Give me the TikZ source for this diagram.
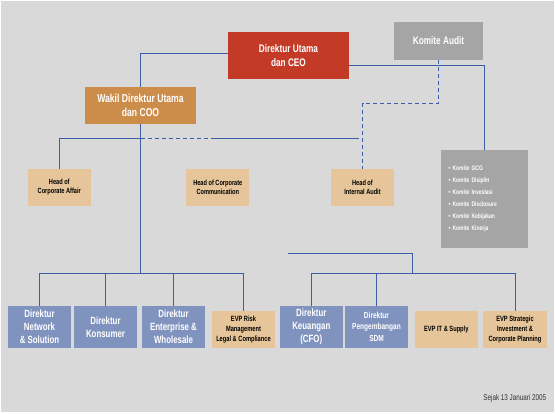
\documentclass[tikz,border=0pt]{standalone}
\usepackage{fontspec}
\setmainfont{Liberation Sans}[FakeStretch=0.75]
\usepackage{xcolor}
\usepackage{tikz}
\usetikzlibrary{positioning,calc}
\definecolor{chartbg}{HTML}{D9D9D9}
\definecolor{ceored}{HTML}{C33A27}
\definecolor{cooorange}{HTML}{CC8C4A}
\definecolor{staffsand}{HTML}{E6C59A}
\definecolor{komitegray}{HTML}{A5A5A5}
\definecolor{dirblue}{HTML}{8093BF}
\definecolor{linkblue}{HTML}{3D5DA6}

\begin{document}
\begin{tikzpicture}[x=1pt,y=-1pt]
\tikzstyle{unit}=[inner sep=0pt,align=center]
\tikzstyle{topbox}=[unit,text=white,font=\bfseries\fontsize{11}{13.3}\selectfont]
\tikzstyle{staff}=[unit,fill=staffsand,minimum width=63pt,minimum height=36.7pt,font=\bfseries\fontsize{7.5}{9.3}\selectfont]
\tikzstyle{evp}=[staff,minimum height=36.4pt,font=\bfseries\fontsize{7.6}{9.8}\selectfont]
\tikzstyle{director}=[unit,fill=dirblue,text=white,minimum width=63pt,minimum height=41.7pt,font=\bfseries\fontsize{10.5}{13}\selectfont]
\tikzstyle{link}=[draw=linkblue,line width=0.8pt]
\tikzstyle{dashlink}=[link,dash pattern=on 4pt off 3pt]
% canvas
\fill[white] (0,0) rectangle (555,413);
\fill[chartbg] (1,1) rectangle (554,412);
\useasboundingbox (0,0) rectangle (555,413);
% top level
\node[topbox,fill=ceored,minimum width=121pt,minimum height=47pt] (ceo) at (288.5,55.5) {Direktur Utama\\dan CEO};
\node[topbox,fill=komitegray,minimum width=89pt,minimum height=37.7pt] (komaudit) at (438.5,40.8) {Komite Audit};
\node[topbox,fill=cooorange,minimum width=111pt,minimum height=36.7pt,font=\bfseries\fontsize{11.5}{13.3}\selectfont] (wakil) at (140.5,105.3) {Wakil Direktur Utama\\dan COO};
% staff units
\node[staff] (corpaff) at (59.3,187.3) {Head of\\Corporate Affair};
\node[staff] (corpcomm) at (217.8,187.3) {Head of Corporate\\Communication};
\node[staff] (intaudit) at (362.5,187.3) {Head of\\Internal Audit};
\node[unit,fill=komitegray,text=white,align=left,text width=71.6pt,inner xsep=7.7pt,minimum height=97.7pt,
  font=\bfseries\fontsize{6.6}{12}\selectfont] (komlist) at (484.5,198.8)
  {• Komite GCG\\• Komite Disiplin\\• Komite Investasi\\• Komite Disclosure\\• Komite Kebijakan\\• Komite Kinerja};
% directors
\node[director] (network) at (39.5,326.8) {Direktur\\Network\\\& Solution};
\node[director] (konsumer) at (105.5,326.8) {Direktur\\Konsumer};
\node[director] (enterprise) at (173.5,326.8) {Direktur\\Enterprise \&\\Wholesale};
\node[evp] (evprisk) at (243.5,329.5) {EVP Risk\\Management\\Legal \& Compliance};
\node[director] (keuangan) at (311.3,326.8) {Direktur\\Keuangan\\(CFO)};
\node[director,font=\bfseries\fontsize{8.7}{11.5}\selectfont] (sdm) at (376.5,326.8) {Direktur\\Pengembangan\\SDM};
\node[evp] (evpit) at (446.3,329.5) {EVP IT \& Supply};
\node[evp,minimum width=64pt] (evpstrat) at (515,329.5) {EVP Strategic\\Investment \&\\Corporate Planning};
\node[anchor=east,inner sep=0pt,text=black!80,font=\fontsize{8.4}{9}\selectfont] (since) at (546.3,398) {Sejak 13 Januari 2005};
% connectors
\draw[link] ([yshift=2pt]ceo.west) -| (wakil.north);
\draw[link] ([yshift=-9.8pt]ceo.east) -| (komlist.north);
\draw[dashlink] (komaudit.south) -- ++(0,43.6) -| (intaudit.north);
\coordinate (dashA) at (140.5,138);
\coordinate (dashB) at (213.3,138);
\coordinate (staffend) at (359,138);
\draw[link] (corpaff.north) |- (dashA);
\draw[dashlink] (dashA) -- (dashB);
\draw[link] (dashB) -- (staffend);
\draw[link] (wakil.south) -- ++(0,150) coordinate (busL);
\foreach \unitname in {network,konsumer,enterprise,evprisk}
  \draw[link] (busL) -| (\unitname.north);
\coordinate (finline) at (288,253.3);
\draw[link] (finline) -| ++(124.3,20.4) coordinate (busR);
\foreach \unitname in {keuangan,sdm,evpstrat}
  \draw[link] (busR) -| (\unitname.north);
\end{tikzpicture}
\end{document}
